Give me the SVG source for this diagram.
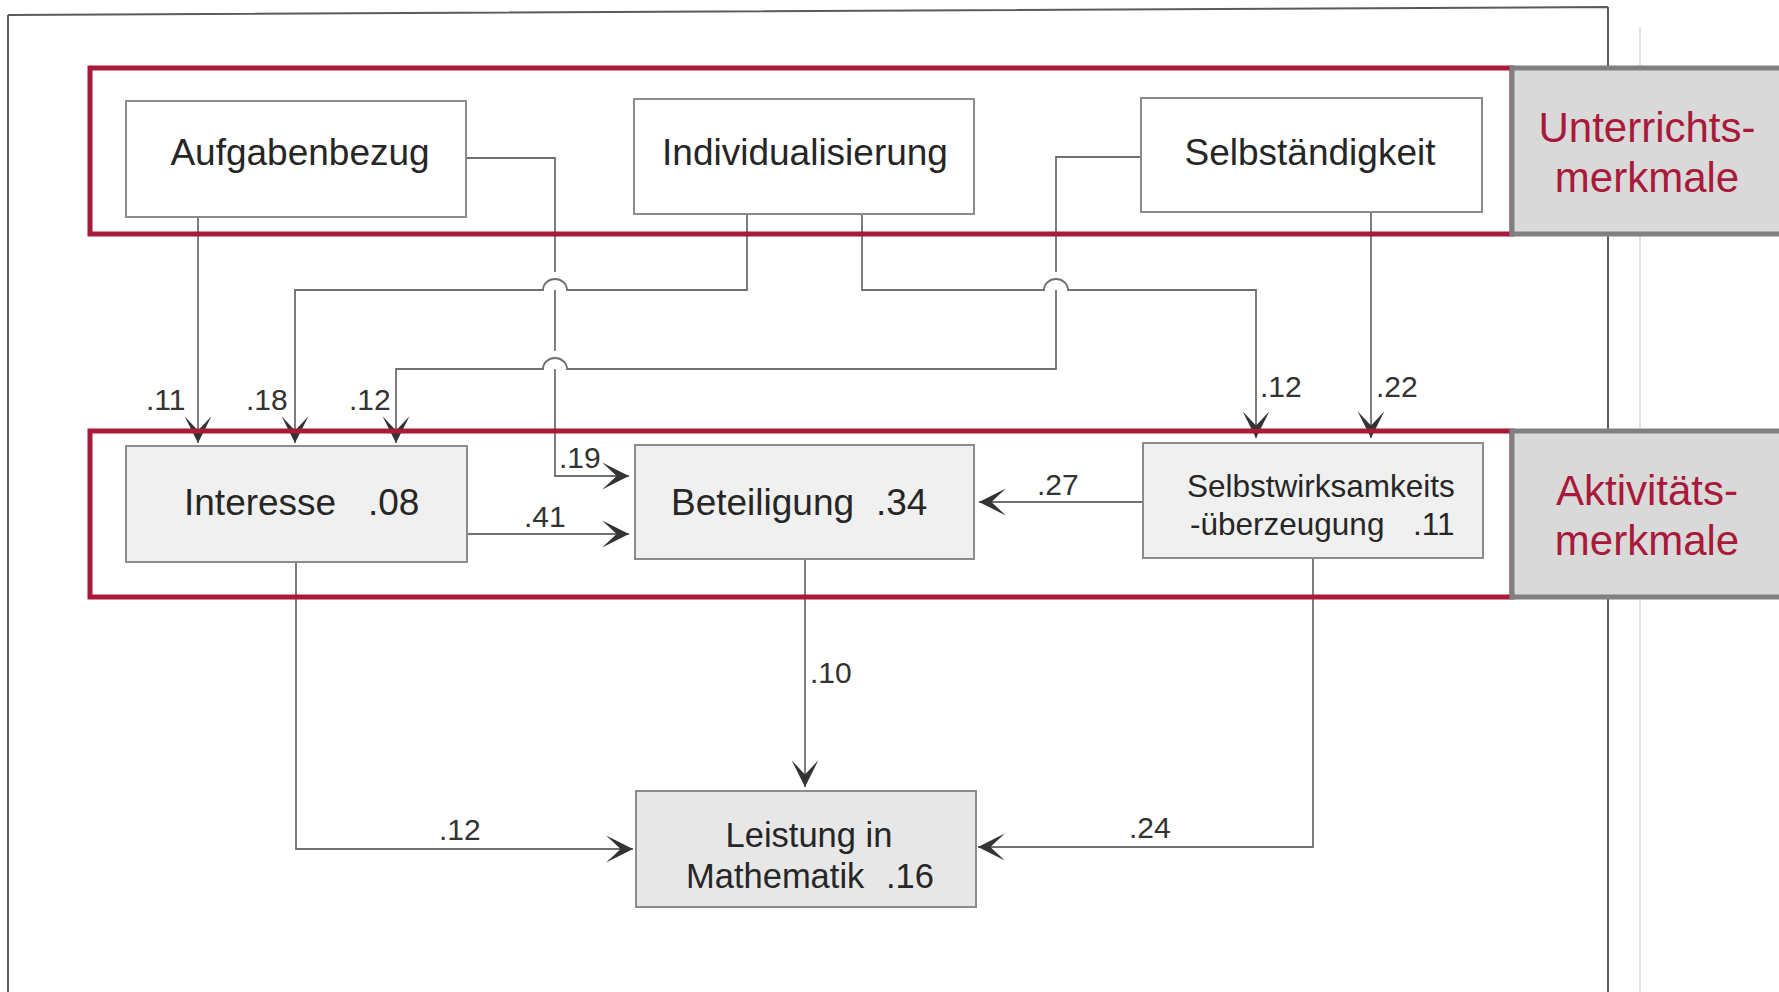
<svg xmlns="http://www.w3.org/2000/svg" width="1779" height="992" viewBox="0 0 1779 992">
  <style>
    .node-w { fill: #ffffff; stroke: #8c8c8c; stroke-width: 2; }
    .node-g { fill: #f0f0f0; stroke: #8c8c8c; stroke-width: 2; }
    .node-d { fill: #e7e7e7; stroke: #8c8c8c; stroke-width: 2; }
    .t { font-family: "Liberation Sans", Arial, sans-serif; fill: #262626; }
    .t37 { font-size: 37px; }
    .t32 { font-size: 31.5px; }
    .t34 { font-size: 34.5px; }
    .lbl { font-family: "Liberation Sans", Arial, sans-serif; font-size: 30px; fill: #333333; }
    .conn { fill: none; stroke: #707070; stroke-width: 1.8; }
    .band { fill: none; stroke: #a8193a; stroke-width: 5; }
    .tag { fill: #d9d9d9; stroke: #7f8082; stroke-width: 5; }
    .tagtxt { font-family: "Liberation Sans", Arial, sans-serif; font-size: 42px; fill: #a8193a; text-anchor: middle; }
    .frame { fill: none; stroke: #5a5a5a; stroke-width: 2; }
  </style>
  <defs>
    <marker id="arrow" markerUnits="userSpaceOnUse" markerWidth="32" markerHeight="32" viewBox="-28 -15 31 30" refX="0" refY="0" orient="auto">
      <path d="M0,0 L-26,-13 L-12,0 L-26,13 Z" fill="#333333"/>
    </marker>
  </defs>

  <rect x="0" y="0" width="1779" height="992" fill="#ffffff"/>

  <!-- page outline -->
  <g id="page">
    <path class="frame" d="M8,15 L1608,7 M8,15 V992 M1608,7 V992"/>
    <path d="M1640,27 V992" fill="none" stroke="#e2e2e2" stroke-width="2"/>
  </g>

  <!-- connectors -->
  <g id="connectors">
    <!-- Aufgabenbezug -> Interesse -->
    <path class="conn" d="M198,217 V443" marker-end="url(#arrow)"/>
    <!-- Individualisierung -> Interesse -->
    <path class="conn" d="M747,214 V290 H567 A12 11 0 0 0 543,290 H295 V443" marker-end="url(#arrow)"/>
    <!-- Individualisierung -> Selbstwirksamkeit -->
    <path class="conn" d="M862,214 V290 H1044 A12 11 0 0 1 1068,290 H1256 V438" marker-end="url(#arrow)"/>
    <!-- Selbstaendigkeit -> Interesse -->
    <path class="conn" d="M1141,157 H1056 V272 M1056,290 V369 H567 A12 11 0 0 0 543,369 H396 V443" marker-end="url(#arrow)"/>
    <!-- Aufgabenbezug -> Beteiligung -->
    <path class="conn" d="M466,158 H555 V272 M555,290 V351 M555,369 V476 H629" marker-end="url(#arrow)"/>
    <!-- Selbstaendigkeit -> Selbstwirksamkeit -->
    <path class="conn" d="M1371,212 V438" marker-end="url(#arrow)"/>
    <!-- Interesse -> Beteiligung -->
    <path class="conn" d="M467,534 H629" marker-end="url(#arrow)"/>
    <!-- Selbstwirksamkeit -> Beteiligung -->
    <path class="conn" d="M1143,502 H979" marker-end="url(#arrow)"/>
    <!-- Beteiligung -> Leistung -->
    <path class="conn" d="M805,559 V787" marker-end="url(#arrow)"/>
    <!-- Interesse -> Leistung -->
    <path class="conn" d="M296,562 V849 H633" marker-end="url(#arrow)"/>
    <!-- Selbstwirksamkeit -> Leistung -->
    <path class="conn" d="M1313,558 V847 H978" marker-end="url(#arrow)"/>

    <text class="lbl" x="146" y="410">.11</text>
    <text class="lbl" x="246" y="410">.18</text>
    <text class="lbl" x="349" y="410">.12</text>
    <text class="lbl" x="559" y="468">.19</text>
    <text class="lbl" x="524" y="527">.41</text>
    <text class="lbl" x="1037" y="495">.27</text>
    <text class="lbl" x="1260" y="397">.12</text>
    <text class="lbl" x="1376" y="397">.22</text>
    <text class="lbl" x="810" y="683">.10</text>
    <text class="lbl" x="439" y="840">.12</text>
    <text class="lbl" x="1129" y="838">.24</text>
  </g>

  <!-- instruction features -->
  <g id="aufgabenbezug">
    <rect class="node-w" x="126" y="101" width="340" height="116"/>
    <text class="t t37" x="300" y="165" text-anchor="middle">Aufgabenbezug</text>
  </g>
  <g id="individualisierung">
    <rect class="node-w" x="634" y="99" width="340" height="115"/>
    <text class="t t37" x="805" y="165" text-anchor="middle">Individualisierung</text>
  </g>
  <g id="selbstaendigkeit">
    <rect class="node-w" x="1141" y="98" width="341" height="114"/>
    <text class="t t37" x="1310" y="165" text-anchor="middle">Selbständigkeit</text>
  </g>

  <!-- activity features -->
  <g id="interesse">
    <rect class="node-g" x="126" y="446" width="341" height="116"/>
    <text class="t t37" x="184" y="515">Interesse</text>
    <text class="t t37" x="368" y="515">.08</text>
  </g>
  <g id="beteiligung">
    <rect class="node-g" x="635" y="445" width="339" height="114"/>
    <text class="t t37" x="671" y="515">Beteiligung</text>
    <text class="t t37" x="876" y="515">.34</text>
  </g>
  <g id="selbstwirksamkeit">
    <rect class="node-g" x="1143" y="443" width="340" height="115"/>
    <text class="t t32" x="1187" y="497">Selbstwirksamkeits</text>
    <text class="t t32" x="1190" y="535">-überzeugung</text>
    <text class="t t32" x="1413" y="535">.11</text>
  </g>

  <!-- outcome -->
  <g id="leistung">
    <rect class="node-d" x="636" y="791" width="340" height="116"/>
    <text class="t t34" x="809" y="847" text-anchor="middle">Leistung in</text>
    <text class="t t34" x="686" y="888">Mathematik</text>
    <text class="t t34" x="886" y="888">.16</text>
  </g>

  <!-- group bands with their tags -->
  <g id="band-unterricht">
    <rect class="band" x="90" y="68" width="1422" height="166"/>
    <rect class="tag" x="1512" y="68" width="280" height="166"/>
    <text class="tagtxt" x="1647" y="142">Unterrichts-</text>
    <text class="tagtxt" x="1647" y="192">merkmale</text>
  </g>
  <g id="band-aktivitaet">
    <rect class="band" x="90" y="431" width="1422" height="166"/>
    <rect class="tag" x="1512" y="431" width="280" height="166"/>
    <text class="tagtxt" x="1647" y="505">Aktivitäts-</text>
    <text class="tagtxt" x="1647" y="555">merkmale</text>
  </g>
</svg>
